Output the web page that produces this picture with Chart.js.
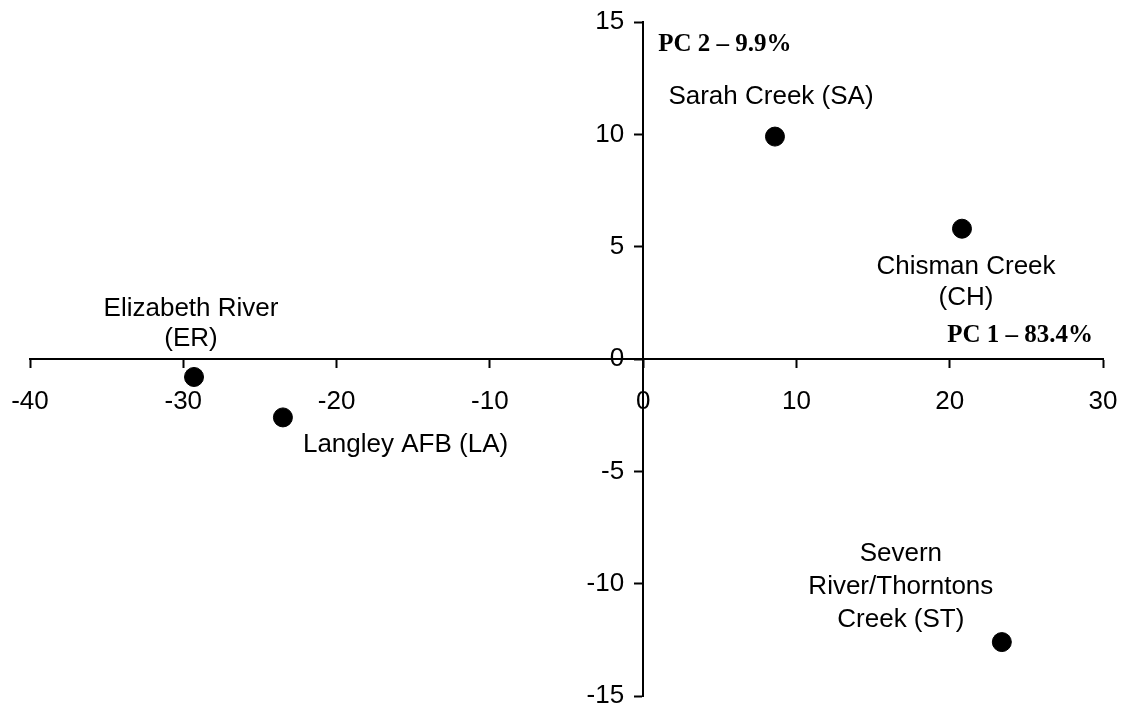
<!DOCTYPE html>
<html>
<head>
<meta charset="utf-8">
<script src="https://cdn.jsdelivr.net/npm/chart.js@4/dist/chart.umd.min.js"></script>
<style>
    html, body { margin: 0; padding: 0; background: #fff; }
    #wrap { width: 1128px; height: 719px; }
</style>
</head>
<body>
<div id="wrap"><canvas id="pca-chart" width="1128" height="719"></canvas></div>
<script>
// site scores on the first two principal components
const siteNames = [
    ['Sarah Creek (SA)'],
    ['Chisman Creek', '(CH)'],
    ['Elizabeth River', '(ER)'],
    ['Langley AFB (LA)'],
    ['Severn', 'River/Thorntons', 'Creek (ST)'],
];
const pc1Scores = [8.6, 20.8, -29.3, -23.5, 23.4];
const pc2Scores = [9.9, 5.8, -0.8, -2.6, -12.6];

const pc1Title = 'PC 1 \u2013 83.4%';
const pc2Title = 'PC 2 \u2013 9.9%';

const xRange = { min: -40, max: 30, step: 10 };
const yRange = { min: -15, max: 15, step: 5 };

// where each site label sits relative to its marker (pixels)
const labelPlacement = [
    { dx: -4, dy: -40, gap: 31, align: 'center' },
    { dx: 4, dy: 38, gap: 31, align: 'center' },
    { dx: -3, dy: -68, gap: 30, align: 'center' },
    { dx: 20, dy: 27, gap: 31, align: 'left' },
    { dx: -101, dy: -88, gap: 33, align: 'center' },
];

const SANS = "'Liberation Sans', Arial, sans-serif";
const SERIF = "'Liberation Serif', 'Times New Roman', serif";
const Y_LABEL_GAP = 19;

const siteLabels = {
    id: 'siteLabels',
    afterDatasetsDraw(chart) {
        const { ctx } = chart;
        const xs = chart.scales.x;
        const ys = chart.scales.y;
        const meta = chart.getDatasetMeta(0);
        ctx.save();
        ctx.fillStyle = '#000';
        ctx.font = `26px ${SANS}`;
        ctx.textBaseline = 'middle';

        // y tick labels sit left of the centred axis, clear of the tick marks
        const axisX = xs.getPixelForValue(0);
        ctx.textAlign = 'right';
        ys.ticks.forEach(t => {
            ctx.fillText(String(t.value), axisX - Y_LABEL_GAP, ys.getPixelForValue(t.value));
        });

        meta.data.forEach((pt, i) => {
            const place = labelPlacement[i];
            ctx.textAlign = place.align;
            siteNames[i].forEach((line, j) => {
                ctx.fillText(line, pt.x + place.dx, pt.y + place.dy + j * place.gap);
            });
        });

        // component titles next to the axes
        ctx.font = `bold 25px ${SERIF}`;
        ctx.textAlign = 'left';
        ctx.fillText(pc2Title, axisX + 15, ys.getPixelForValue(yRange.max) + 23);
        ctx.textAlign = 'right';
        ctx.fillText(pc1Title, xs.getPixelForValue(xRange.max) - 10, ys.getPixelForValue(0) - 23);
        ctx.restore();
    },
};

const axisStyle = (range, padding, showLabels) => ({
    type: 'linear',
    min: range.min,
    max: range.max,
    // end labels may overhang; the layout padding already leaves room
    afterFit(scale) {
        scale.paddingLeft = 0;
        scale.paddingRight = 0;
        scale.paddingTop = 0;
        scale.paddingBottom = 0;
    },
    ticks: {
        display: showLabels,
        stepSize: range.step,
        padding: padding,
        color: '#000',
        font: { family: SANS, size: 26 },
        maxRotation: 0,
        autoSkip: false,
    },
    grid: {
        drawOnChartArea: false,
        drawTicks: true,
        tickLength: 8,
        tickWidth: 2,
        tickColor: '#000',
    },
    border: { display: true, color: '#000', width: 2 },
});

const ctx = document.getElementById('pca-chart');
new Chart(ctx, {
    type: 'scatter',
    data: {
        datasets: [{
            data: pc1Scores.map((x, i) => ({ x: x, y: pc2Scores[i] })),
            backgroundColor: '#000',
            borderColor: '#000',
            pointRadius: 9.5,
            pointHoverRadius: 9.5,
        }],
    },
    options: {
        responsive: false,
        animation: false,
        layout: { padding: { left: 30, right: 25, top: 22, bottom: 23 } },
        plugins: {
            legend: { display: false },
            tooltip: { enabled: false },
        },
        scales: {
            x: { ...axisStyle(xRange, 19, true), position: { y: 0 } },
            y: { ...axisStyle(yRange, 10, false), position: { x: 0 } },
        },
    },
    plugins: [siteLabels],
});
</script>
</body>
</html>
